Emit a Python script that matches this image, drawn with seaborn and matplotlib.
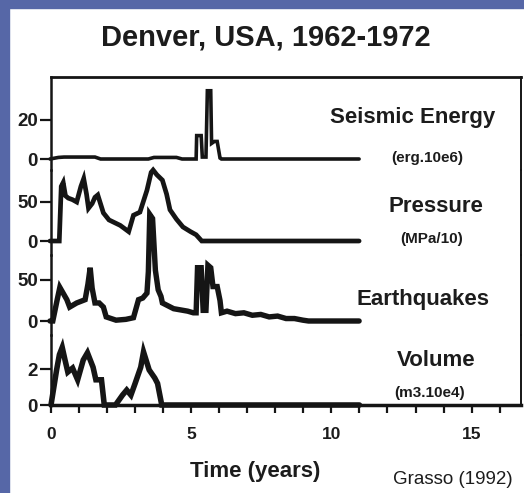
import numpy as np
import pandas as pd
import matplotlib
matplotlib.use("Agg")
import matplotlib.pyplot as plt
import seaborn as sns
from matplotlib.patches import Rectangle

# ---------------- data ----------------
seismic_t = [0, 0.3, 0.5, 1.6, 1.8, 3.5, 3.7, 4.5, 4.7, 5.2, 5.22, 5.38, 5.42, 5.55,
             5.6, 5.72, 5.75, 5.85, 5.95, 6.05, 6.1, 11.0]
seismic_v = [0, 0.8, 1, 1, 0, 0, 0.8, 0.8, 0, 0, 12, 12, 1, 1,
             35, 35, 8, 9, 9, 0.5, 0, 0]

pressure_t = [0, 0.33, 0.4, 0.47, 0.55, 0.65, 0.8, 0.95, 1.1, 1.2, 1.3, 1.37, 1.5, 1.6,
              1.7, 1.9, 2.1, 2.5, 2.8, 2.97, 3.2, 3.45, 3.6, 3.67, 3.8, 4.0, 4.15, 4.27,
              4.5, 4.73, 5.0, 5.2, 5.4, 11.0]
pressure_v = [0, 0, 70, 75, 58, 55, 53, 50, 70, 80, 60, 42, 48, 56,
              59, 36, 27, 20, 12, 33, 37, 65, 88, 91, 85, 78, 60, 40,
              28, 18, 12, 8, 0, 0]

quake_t = [0, 0.1, 0.25, 0.35, 0.45, 0.6, 0.7, 0.95, 1.1, 1.25, 1.35, 1.43, 1.5, 1.6,
           1.75, 1.9, 2.0, 2.35, 2.7, 2.97, 3.15, 3.3, 3.45, 3.5, 3.55, 3.65, 3.75,
           3.85, 3.95, 4.0, 4.4, 4.9, 5.1, 5.2, 5.25, 5.38, 5.45, 5.55, 5.62, 5.72,
           5.8, 5.95, 6.05, 6.1, 6.3, 6.6, 6.9, 7.2, 7.5, 7.8, 8.1, 8.4, 8.7, 9.0,
           9.2, 11.0]
quake_v = [0, 0, 25, 41, 35, 26, 17, 22, 24, 26, 45, 65, 40, 22,
           22, 17, 5, 1, 2, 4, 26, 28, 34, 60, 130, 125, 62,
           38, 30, 22, 15, 12, 10, 10, 65, 65, 13, 13, 68, 65,
           42, 42, 25, 10, 12, 9, 10, 7, 8, 5, 6, 3, 3, 1,
           0, 0]

volume_t = [0, 0.2, 0.3, 0.4, 0.5, 0.6, 0.77, 0.95, 1.15, 1.3, 1.5, 1.6, 1.8, 1.9,
            2.3, 2.55, 2.7, 2.85, 3.0, 3.2, 3.3, 3.5, 3.7, 3.8, 3.95, 11.0]
volume_v = [0, 1.95, 2.8, 3.2, 2.5, 1.83, 2.05, 1.4, 2.5, 2.9, 2.1, 1.4, 1.4, 0,
            0, 0.55, 0.83, 0.55, 1.2, 2.1, 2.95, 1.95, 1.5, 1.2, 0, 0]

panel_names = ["Seismic Energy", "Pressure", "Earthquakes", "Volume"]
panel_units = ["(erg.10e6)", "(MPa/10)", "", "(m3.10e4)"]
panel_yticks = [[0, 20], [0, 50], [0, 50], [0, 2]]
x_major = [0, 5, 10, 15]

title = "Denver, USA, 1962-1972"
xlabel = "Time (years)"
credit = "Grasso (1992)"

# ---------------- style ----------------
sns.set_style("ticks")
plt.rcParams["font.family"] = ["Liberation Sans", "DejaVu Sans"]

W, H = 524, 493
fig = plt.figure(figsize=(W / 100, H / 100), dpi=100)
fig.patch.set_facecolor("white")

# blue frame (top and left)
blue = "#5667a7"
fig.patches.append(Rectangle((0, 1 - 8 / H), 1, 8 / H, transform=fig.transFigure,
                             color=blue, zorder=0))
fig.patches.append(Rectangle((0, 0), 9 / W, 1, transform=fig.transFigure,
                             color=blue, zorder=0))

# layout in pixels: (top, bottom, zero-pixel, pixels-per-unit)
left_px, right_px = 51, 521
panels_px = [
    (77, 170, 159, 1.95),
    (170, 255, 241, 0.78),
    (255, 335, 321, 0.82),
    (335, 405, 405, 18.0),
]
x0_px, px_per_year = 50, 28.1
xlim = ((left_px - x0_px) / px_per_year, (right_px - x0_px) / px_per_year)

series = [
    (seismic_t, seismic_v, 2.6),
    (pressure_t, pressure_v, 3.4),
    (quake_t, quake_v, 3.9),
    (volume_t, volume_v, 4.0),
]

ink = "#151515"
txt = "#1c1c1c"
axes = []
for i, ((top, bot, zero, ppu), (t, v, lw)) in enumerate(zip(panels_px, series)):
    ax = fig.add_axes([left_px / W, 1 - bot / H, (right_px - left_px) / W, (bot - top) / H])
    ax.patch.set_alpha(0)
    df = pd.DataFrame({"t": t, "v": v})
    sns.lineplot(data=df, x="t", y="v", ax=ax, color=ink, lw=lw, estimator=None,
                 sort=False, solid_joinstyle="miter")
    for ln in ax.lines:
        ln.set_clip_on(False)
    ax.set_xlim(*xlim)
    ax.set_ylim(-(bot - zero) / ppu, (zero - top) / ppu)
    ax.set_xlabel("")
    ax.set_ylabel("")
    ax.set_yticks(panel_yticks[i])
    ax.set_yticklabels([str(y) for y in panel_yticks[i]], fontsize=13.5, fontweight="bold")
    ax.tick_params(axis="y", length=8, width=1.6, pad=1.5, color=ink, labelcolor=txt)
    for s in ["left", "right", "top", "bottom"]:
        ax.spines[s].set_color(ink)
    ax.spines["left"].set_linewidth(1.8)
    ax.spines["right"].set_linewidth(1.4)
    ax.spines["top"].set_visible(i == 0)
    ax.spines["top"].set_linewidth(2.0)
    ax.spines["bottom"].set_visible(i == 3)
    ax.spines["bottom"].set_linewidth(2.5)
    if i < 3:
        ax.tick_params(axis="x", bottom=False, labelbottom=False)
    axes.append(ax)

axb = axes[-1]
axb.set_xticks(x_major)
axb.set_xticklabels([str(x) for x in x_major], fontsize=12.5, fontweight="bold")
axb.set_xticks(np.arange(0, 17, 1), minor=True)
axb.tick_params(axis="x", which="both", direction="out", length=6, width=1.6,
                color=ink, labelcolor=txt, pad=10)

# titles and labels
fig.text(266 / W, 1 - 46 / H, title, ha="center", va="baseline", fontsize=21,
         fontweight="bold", color=txt)
name_pos = [(495, 123), (483, 212), (490, 305), (475, 366)]
unit_pos = [(463, 162), (463, 243), None, (465, 397)]
for name, unit, np_, up in zip(panel_names, panel_units, name_pos, unit_pos):
    fig.text(np_[0] / W, 1 - np_[1] / H, name, ha="right", va="baseline", fontsize=16,
             fontweight="bold", color=txt)
    if up is not None:
        fig.text(up[0] / W, 1 - up[1] / H, unit, ha="right", va="baseline", fontsize=11,
                 fontweight="bold", color=txt)

fig.text(255 / W, 1 - 477 / H, xlabel, ha="center", va="baseline", fontsize=16,
         fontweight="bold", color=txt)
fig.text(453 / W, 1 - 484 / H, credit, ha="center", va="baseline", fontsize=13.5,
         color=txt)

fig.savefig("out.png", dpi=100)
